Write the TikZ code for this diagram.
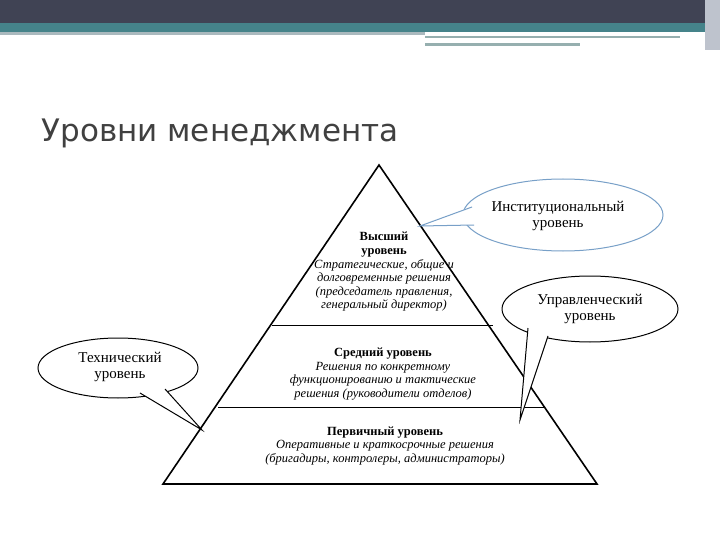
\documentclass[tikz,border=0pt]{standalone}
\usepackage{fontspec}
\setmainfont{Liberation Serif}
\newfontfamily\ttl{DejaVu Sans}
\definecolor{hdark}{RGB}{64,67,84}
\definecolor{hteal}{RGB}{69,131,138}
\definecolor{hgray}{RGB}{170,185,190}
\definecolor{hgray2}{RGB}{150,175,175}
\definecolor{hgray3}{RGB}{190,195,205}
\definecolor{ttlc}{RGB}{64,64,64}
\definecolor{lblue}{RGB}{120,160,200}
\begin{document}
\begin{tikzpicture}[x=1pt,y=-1pt,
 lvl/.style={align=center,font=\fontsize{12.5}{13.6}\selectfont\itshape,inner sep=0pt},
 ell/.style={draw=#1,line width=1pt,fill=white},
 ctext/.style={align=center,font=\fontsize{15}{16.5}\selectfont}]
\useasboundingbox (0,0) rectangle (720,540);
\fill[white] (0,0) rectangle (720,540);
\fill[hdark] (0,0) rectangle (705,23);
\fill[hteal] (0,23) rectangle (705,32);
\fill[hgray] (0,32) rectangle (425,35);
\fill[hgray2] (425,36) rectangle (680,38);
\fill[hgray2] (425,43) rectangle (580,46);
\fill[hgray3] (705,0) rectangle (720,50);
\node[anchor=west,font=\ttl\fontsize{31}{36}\selectfont,text=ttlc] (title) at (38,133) {Уровни менеджмента};
\coordinate (A) at (379,165);
\coordinate (L) at (163,484);
\coordinate (R) at (597,484);
\draw[line width=1.6pt] (A) -- (L) -- (R) -- cycle;
\draw (272,325) -- (493,325);
\draw (218,407) -- (545,407);
\node[lvl] (top) at (384,272) {\textbf{\upshape Высший}\\\textbf{\upshape уровень}\\Стратегические, общие и\\долговременные решения\\(председатель правления,\\генеральный директор)};
\node[lvl] (mid) at (383,374) {\textbf{\upshape Средний уровень}\\Решения по конкретному\\функционированию и тактические\\решения (руководители отделов)};
\node[lvl] (low) at (385,446) {\textbf{\upshape Первичный уровень}\\Оперативные и краткосрочные решения\\(бригадиры, контролеры, администраторы)};
% institutional
\coordinate (t1) at (420,226);
\draw[ell=lblue] (563,215) ellipse[x radius=100,y radius=36];
\fill[white] (472,207) -- (t1) -- (474,225) -- (563,215) -- cycle;
\draw[lblue,line width=1pt] (472,207) -- (t1) -- (474,225);
\node[ctext] (inst) at (558,216) {Институциональный\\уровень};
% managerial
\coordinate (t2) at (520,420);
\draw[ell=black] (590,309) ellipse[x radius=88,y radius=33];
\fill[white] (528,328) -- (t2) -- (548,336) -- (590,309) -- cycle;
\draw[line width=1pt] (528,328) -- (t2) -- (548,336);
\node[ctext] (upr) at (590,309) {Управленческий\\уровень};
% technical
\coordinate (t3) at (202,430);
\draw[ell=black] (118,368) ellipse[x radius=80,y radius=30];
\fill[white] (140,393) -- (t3) -- (165,389) -- (118,368) -- cycle;
\draw[line width=1pt] (140,393) -- (t3) -- (165,389);
\node[ctext] (tech) at (120,367) {Технический\\уровень};
\end{tikzpicture}
\end{document}
